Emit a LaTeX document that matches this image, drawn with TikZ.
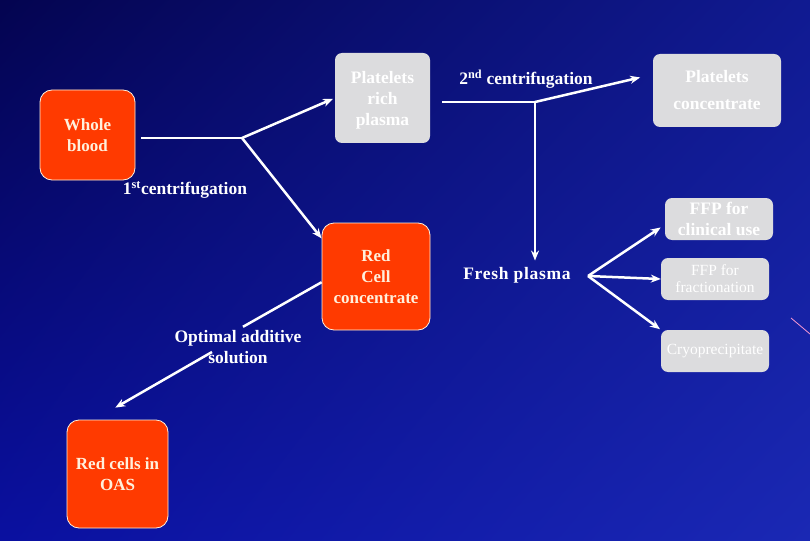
\documentclass[tikz,border=0pt]{standalone}
\usepackage{fontspec}
\setmainfont{Liberation Serif}
\usetikzlibrary{arrows.meta,shadings}

\definecolor{boxred}{RGB}{255,58,0}
\definecolor{boxgrey}{RGB}{220,220,222}
\definecolor{cream}{RGB}{255,240,220}
\definecolor{bgul}{RGB}{4,4,80}
\definecolor{bgur}{RGB}{16,26,145}
\definecolor{bgll}{RGB}{10,16,160}
\definecolor{bglr}{RGB}{26,40,180}

\tikzset{
	redbox/.style={draw=cream, line width=0.8pt, fill=boxred, rounded corners=12pt, text=cream,
		font=\bfseries\fontsize{17}{21}\selectfont, align=center, inner sep=0pt},
	greybox/.style={fill=boxgrey, rounded corners=7pt, text=white, align=center, inner sep=0pt,
		font=\bfseries\fontsize{17.5}{21}\selectfont},
	smallgrey/.style={greybox, font=\fontsize{15.5}{17}\selectfont},
	steplabel/.style={text=white, align=center, font=\bfseries\fontsize{17.5}{21}\selectfont},
	flow/.style={white, line width=2.5pt}
}

\begin{document}
\begin{tikzpicture}[x=1pt, y=-1pt, >={Stealth[length=10pt,width=8pt]}]
	% background
	\shade[upper left=bgul, upper right=bgur, lower left=bgll, lower right=bglr] (0,0) rectangle (810,540);
	\useasboundingbox (0,0) rectangle (810,540);
	\draw[magenta!40!white, line width=0.8pt] (791,318) -- (810,334);

	% boxes
	\node[redbox, minimum width=95pt, minimum height=90pt] (wb) at (87.5,135) {Whole\\blood};
	\node[greybox, minimum width=95pt, minimum height=90pt, text depth=0pt] (prp) at (382.5,98) {Platelets\\rich\\plasma};
	\node[greybox, minimum width=128pt, minimum height=73pt] (pc) at (717,90.5) {Platelets\\[6pt]concentrate};
	\node[greybox, minimum width=108pt, minimum height=42pt] (ffpc) at (719,219) {FFP for\\clinical use};
	\node[smallgrey, minimum width=108pt, minimum height=42pt] (ffpf) at (715,279) {FFP for\\fractionation};
	\node[smallgrey, minimum width=108pt, minimum height=42pt] (cryo) at (715,351) {Cryoprecipitate};
	\node[redbox, minimum width=108pt, minimum height=107pt] (rcc) at (376,276.5) {Red\\Cell\\concentrate};
	\node[redbox, minimum width=101pt, minimum height=108pt] (oas) at (117.5,474) {Red cells in\\OAS};

	% labels
	\node[steplabel] (c1) at (185,190) {1\textsuperscript{st}centrifugation};
	\node[steplabel] (c2) at (526,79) {2\textsuperscript{nd} centrifugation};
	\node[steplabel, font=\bfseries\fontsize{17.5}{21}\selectfont\addfontfeature{LetterSpace=4}] (fp) at (517,275) {Fresh plasma};
	\node[steplabel] (oasl) at (238,347) {Optimal additive\\solution};

	\coordinate (j1) at (242,138);
	\coordinate (j2) at (535,102);
	\coordinate (j3) at (588,276);

	% first centrifugation
	\draw[flow, shorten <=6pt] (wb.east |- j1) -- (j1);
	\draw[flow, ->, shorten >=2pt] (j1) -- (prp.west);
	\draw[flow, ->] (j1) -- (rcc.145);
	% second centrifugation
	\draw[flow, shorten <=12pt] (prp.east |- j2) -- (j2);
	\draw[flow, ->, shorten >=13pt] (j2) -- (pc.166);
	\draw[flow, ->, shorten >=3pt] (j2) -- (j2 |- fp.north);
	% fresh plasma
	\draw[flow, ->, shorten >=5pt] (j3) -- (ffpc.186);
	\draw[flow, ->] (j3) -- (ffpf.west);
	\draw[flow, ->, shorten >=1pt] (j3) -- (cryo.north west);
	% additive solution
	\draw[flow] (rcc.186) -- ([xshift=5pt]oasl.north);
	\draw[flow, ->, shorten >=24pt] ([xshift=-26pt,yshift=-5pt]oasl.center) -- ([xshift=-23pt]oas.north);
\end{tikzpicture}
\end{document}
